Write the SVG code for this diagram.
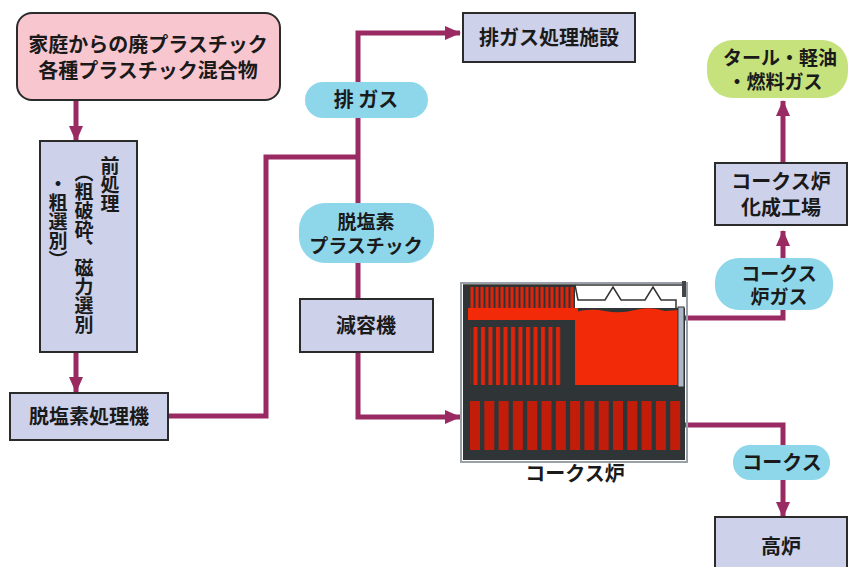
<svg xmlns="http://www.w3.org/2000/svg" width="850" height="567" viewBox="0 0 850 567">
  <style>
    .t { font-family: "Noto Sans CJK JP", "Noto Sans CJK SC", sans-serif; font-size: 20px; font-weight: 700; fill: #1a1a1a; text-anchor: middle; }
    .t2 { font-size: 19px; }
    .vt { font-family: "Noto Sans CJK JP", "Noto Sans CJK SC", sans-serif; font-size: 19px; font-weight: 700; fill: #1a1a1a; writing-mode: vertical-rl; }
    .box { fill: #cdd1ea; stroke: #2b2b2b; stroke-width: 2; }
    .pill { fill: #8ed6ea; }
    .link { fill: none; stroke: #9a2b62; stroke-width: 5; stroke-linejoin: miter; }
    .dark { fill: #2f3537; }
    .red { fill: #f22a08; }
    .bar { fill: #c21d0a; }
  </style>
  <defs>
    <marker id="arrow" markerUnits="userSpaceOnUse" viewBox="0 0 16 14" markerWidth="16" markerHeight="14" refX="15" refY="7" orient="auto">
      <path d="M0,0 L16,7 L0,14 Z" fill="#9a2b62"/>
    </marker>
    <pattern id="stripesThin" patternUnits="userSpaceOnUse" width="5" height="10">
      <rect width="5" height="10" fill="#2f3537"/>
      <rect x="0.5" width="3" height="10" fill="#e0240a"/>
    </pattern>
    <pattern id="stripesWide" patternUnits="userSpaceOnUse" width="7.5" height="10">
      <rect width="7.5" height="10" fill="#2f3537"/>
      <rect x="1" width="4" height="10" fill="#e0240a"/>
    </pattern>
  </defs>

  <rect width="850" height="567" fill="#ffffff"/>

  <!-- connectors -->
  <g id="connectors">
    <path class="link" d="M76,100 V141" marker-end="url(#arrow)"/>
    <path class="link" d="M76,352 V392" marker-end="url(#arrow)"/>
    <path class="link" d="M168,416 H266 V157 H358"/>
    <path class="link" d="M358,157 V33 H460" marker-end="url(#arrow)"/>
    <path class="link" d="M358,157 V417 H460" marker-end="url(#arrow)"/>
    <path class="link" d="M685,318 H783 V231" marker-end="url(#arrow)"/>
    <path class="link" d="M783,163 V101" marker-end="url(#arrow)"/>
    <path class="link" d="M685,425 H783 V517" marker-end="url(#arrow)"/>
  </g>

  <!-- input: mixed household plastics -->
  <g id="source">
    <rect x="17" y="13" width="263" height="87" rx="15" fill="#f8c6cf" stroke="#2b2b2b" stroke-width="2"/>
    <text class="t"><tspan x="148" y="52">家庭からの廃プラスチック</tspan><tspan x="148" y="78">各種プラスチック混合物</tspan></text>
  </g>

  <!-- pretreatment -->
  <g id="pretreatment">
    <rect class="box" x="40" y="141" width="97" height="211"/>
    <text class="vt"><tspan x="110" y="156">前処理</tspan><tspan x="84" y="163">（粗破砕、磁力選別</tspan><tspan x="58" y="174">・粗選別）</tspan></text>
  </g>

  <!-- dechlorination unit -->
  <g id="dechlorinator">
    <rect class="box" x="10" y="393" width="158" height="47"/>
    <text class="t" x="89" y="424">脱塩素処理機</text>
  </g>

  <!-- exhaust gas treatment -->
  <g id="exhaust-facility">
    <rect class="box" x="463" y="13" width="172" height="49"/>
    <text class="t" x="549" y="45">排ガス処理施設</text>
  </g>

  <g id="exhaust-gas">
    <rect class="pill" x="305" y="82" width="123" height="36" rx="18"/>
    <text class="t" x="366" y="107">排 ガス</text>
  </g>

  <g id="dechlorinated-plastic">
    <rect class="pill" x="299" y="203" width="135" height="60" rx="26"/>
    <text class="t t2"><tspan x="366" y="229">脱塩素</tspan><tspan x="366" y="253">プラスチック</tspan></text>
  </g>

  <!-- volume reducer -->
  <g id="volume-reducer">
    <rect class="box" x="300" y="299" width="133" height="53"/>
    <text class="t" x="366" y="333">減容機</text>
  </g>

  <!-- coke oven cut-away -->
  <g id="coke-oven">
    <rect x="461" y="283" width="226" height="179" fill="none" stroke="#9aa0a8" stroke-width="2"/>
    <rect class="dark" x="463" y="285" width="112" height="25"/>
    <rect class="dark" x="463" y="308" width="222" height="152"/>
    <rect x="470" y="287" width="104" height="22" fill="url(#stripesThin)"/>
    <rect class="red" x="468" y="308" width="110" height="12"/>
    <rect x="470" y="327" width="93" height="58" fill="url(#stripesWide)"/>
    <path class="red" d="M575,312 Q590,308 605,311 T635,310 T665,311 L678,310 L678,385 L575,385 Z"/>
    <rect x="678" y="307" width="6" height="80" fill="#aeb6c8" stroke="#333" stroke-width="1"/>
    <line x1="463" y1="285" x2="685" y2="285" stroke="#333" stroke-width="1.5"/>
    <rect x="682" y="281" width="4" height="16" fill="#444"/>
    <polyline points="575,285 578,300 605,300 613,287 621,300 645,300 653,287 661,300 676,300 676,308" fill="none" stroke="#333" stroke-width="1.5"/>
    <g>
      <rect class="bar" x="470" y="401" width="10" height="49"/>
      <rect class="bar" x="484.3" y="401" width="10" height="49"/>
      <rect class="bar" x="498.6" y="401" width="10" height="49"/>
      <rect class="bar" x="512.9" y="401" width="10" height="49"/>
      <rect class="bar" x="527.2" y="401" width="10" height="49"/>
      <rect class="bar" x="541.5" y="401" width="10" height="49"/>
      <rect class="bar" x="555.8" y="401" width="10" height="49"/>
      <rect class="bar" x="570.1" y="401" width="10" height="49"/>
      <rect class="bar" x="584.4" y="401" width="10" height="49"/>
      <rect class="bar" x="598.7" y="401" width="10" height="49"/>
      <rect class="bar" x="613" y="401" width="10" height="49"/>
      <rect class="bar" x="627.3" y="401" width="10" height="49"/>
      <rect class="bar" x="641.6" y="401" width="10" height="49"/>
      <rect class="bar" x="655.9" y="401" width="10" height="49"/>
      <rect class="bar" x="670.2" y="401" width="10" height="49"/>
    </g>
    <text class="t" x="575" y="481">コークス炉</text>
  </g>

  <!-- products -->
  <g id="oven-gas">
    <rect class="pill" x="715" y="258" width="118" height="52" rx="24"/>
    <text class="t t2"><tspan x="779" y="281">コークス</tspan><tspan x="779" y="304">炉ガス</tspan></text>
  </g>

  <g id="chemical-plant">
    <rect class="box" x="715" y="163" width="132" height="62"/>
    <text class="t"><tspan x="781" y="189">コークス炉</tspan><tspan x="781" y="215">化成工場</tspan></text>
  </g>

  <g id="tar-oil-gas">
    <rect x="707" y="40" width="141" height="58" rx="26" fill="#c6e27c"/>
    <text class="t t2"><tspan x="780" y="65">タール・軽油</tspan><tspan x="775" y="89">・燃料ガス</tspan></text>
  </g>

  <g id="coke">
    <rect class="pill" x="733" y="445" width="97" height="35" rx="17"/>
    <text class="t" x="782" y="470">コークス</text>
  </g>

  <g id="blast-furnace">
    <rect class="box" x="715" y="517" width="132" height="60"/>
    <text class="t" x="781" y="554">高炉</text>
  </g>
</svg>
